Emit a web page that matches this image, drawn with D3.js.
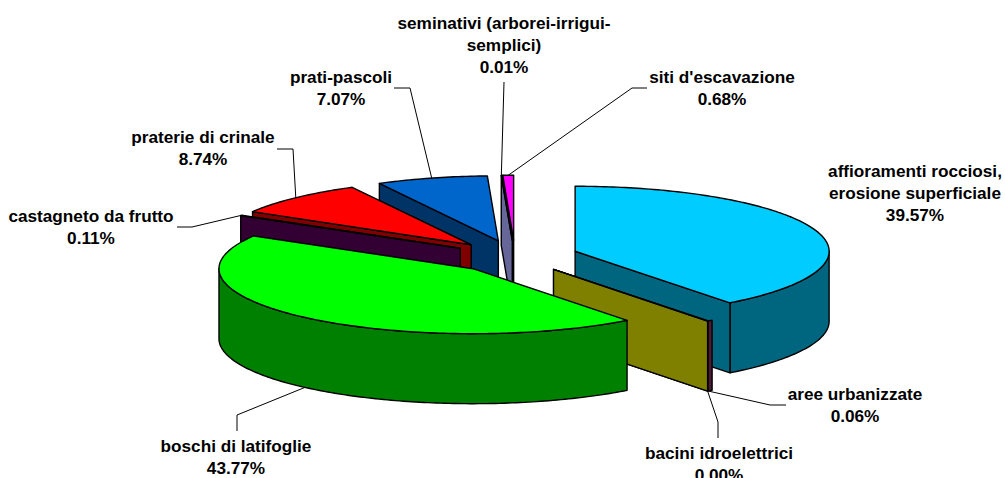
<!DOCTYPE html>
<html>
<head>
<meta charset="utf-8">
<script src="https://cdn.jsdelivr.net/npm/d3@7"></script>
<style>
  html, body { margin: 0; padding: 0; background: #fff; overflow: hidden; }
  text { font-family: "Liberation Sans", Arial, sans-serif; font-weight: bold; font-size: 17.2px; fill: #000; }
</style>
</head>
<body>
<div id="chart"></div>
<script>
// Data
const categories = ["affioramenti rocciosi, erosione superficiale", "aree urbanizzate", "bacini idroelettrici",
  "boschi di latifoglie", "castagneto da frutto", "praterie di crinale", "prati-pascoli",
  "seminativi (arborei-irrigui-semplici)", "siti d'escavazione"];
const shares = [39.57, 0.06, 0.00, 43.77, 0.11, 8.74, 7.07, 0.01, 0.68];
const topColors = ["#00ccff", "#993366", "#ffff00", "#00ff00", "#660066", "#ff0000", "#0066cc", "#ccccff", "#ff00ff"];
const sideColors = ["#006680", "#4d1a33", "#808000", "#008000", "#330033", "#800000", "#003366", "#666699", "#800080"];

// Label text and where it sits
const labelLines = [
  ["affioramenti rocciosi,", "erosione superficiale", "39.57%"],
  ["aree urbanizzate", "0.06%"],
  ["bacini idroelettrici", "0.00%"],
  ["boschi di latifoglie", "43.77%"],
  ["castagneto da frutto", "0.11%"],
  ["praterie di crinale", "8.74%"],
  ["prati-pascoli", "7.07%"],
  ["seminativi (arborei-irrigui-", "semplici)", "0.01%"],
  ["siti d'escavazione", "0.68%"]
];
const labelPos = [[915, 177], [855, 400], [719, 459], [236, 452], [91, 222], [203, 143], [341, 83], [504, 29], [722, 83]];
// leader bends, the slice end of each line is worked out from the pie
const leaderBends = [
  [],
  [[770, 405], [786, 405]],
  [[718, 422], [718, 438]],
  [[237, 415], [237, 431]],
  [[192, 227], [177, 227]],
  [[293, 149], [277, 149]],
  [[410, 88], [394, 88]],
  [[504, 82]],
  [[632, 88], [647, 88]]
];

const width = 1005, height = 478;
const center = { x: 515, y: 256.5 };
const rx = 254, ry = 65, depth = 70, explode = 0.25;
const minSweep = 0.022; // very thin slices still show a sliver of curved wall

const svg = d3.select("#chart")
  .append("svg")
  .attr("width", width)
  .attr("height", height)
  .style("display", "block");

const pie = d3.pie().sort(null).startAngle(0).endAngle(2 * Math.PI);
const slices = pie(shares).map((d, i) => {
  const mid = (d.startAngle + d.endAngle) / 2;
  return {
    start: d.startAngle,
    end: d.endAngle,
    mid: mid,
    i: i,
    // exploded apex of the slice
    ax: center.x + explode * rx * Math.sin(mid),
    ay: center.y - explode * ry * Math.cos(mid)
  };
});

function rim(s, a) {
  return [s.ax + rx * Math.sin(a), s.ay - ry * Math.cos(a)];
}

function arcPoints(s, a0, a1) {
  const n = Math.max(2, Math.ceil((a1 - a0) * 60));
  return d3.range(n + 1).map(k => rim(s, a0 + (a1 - a0) * k / n));
}

const line = d3.line();
const closed = pts => line(pts) + "Z";

function drawFace(pts, color) {
  svg.append("path")
    .attr("d", closed(pts))
    .attr("fill", color)
    .attr("stroke", "#000")
    .attr("stroke-width", 1.4)
    .attr("stroke-linejoin", "round");
}

function drawSlice(s) {
  const side = sideColors[s.i];
  const down = p => [p[0], p[1] + depth];

  // curved wall, only the front half shows
  const a0 = Math.max(s.end > s.start ? Math.min(s.start, s.end - minSweep) : s.start, Math.PI / 2);
  const a1 = Math.min(s.end, 3 * Math.PI / 2);
  if (a1 > a0) {
    const front = arcPoints(s, a0, a1);
    drawFace(front.concat(front.slice().reverse().map(down)), side);
  }

  // flat wall facing the viewer
  [[s.start, Math.sin(s.start) < 0], [s.end, Math.sin(s.end) > 0]].forEach(([a, visible]) => {
    if (!visible) return;
    const p = rim(s, a);
    drawFace([[s.ax, s.ay], p, down(p), [s.ax, s.ay + depth]], side);
  });

  // top
  drawFace([[s.ax, s.ay]].concat(arcPoints(s, s.start, s.end)), topColors[s.i]);
}

// back to front
const paintOrder = [0, 8, 7, 6, 5, 4, 1, 2, 3];
paintOrder.forEach(i => drawSlice(slices[i]));

// leader lines
leaderBends.forEach((bends, i) => {
  if (!bends.length) return;
  const s = slices[i];
  const p = rim(s, s.mid);
  const front = Math.cos(s.mid) < 0;
  const from = [p[0], p[1] + (front ? depth : 0)];
  svg.append("path")
    .attr("d", line([from].concat(bends)))
    .attr("fill", "none")
    .attr("stroke", "#000")
    .attr("stroke-width", 1);
});

// labels
labelLines.forEach((lines, i) => {
  const t = svg.append("text")
    .attr("text-anchor", "middle")
    .attr("x", labelPos[i][0])
    .attr("y", labelPos[i][1]);
  lines.forEach((l, k) => {
    t.append("tspan")
      .attr("x", labelPos[i][0])
      .attr("dy", k === 0 ? 0 : 22)
      .text(l);
  });
});
</script>
</body>
</html>
